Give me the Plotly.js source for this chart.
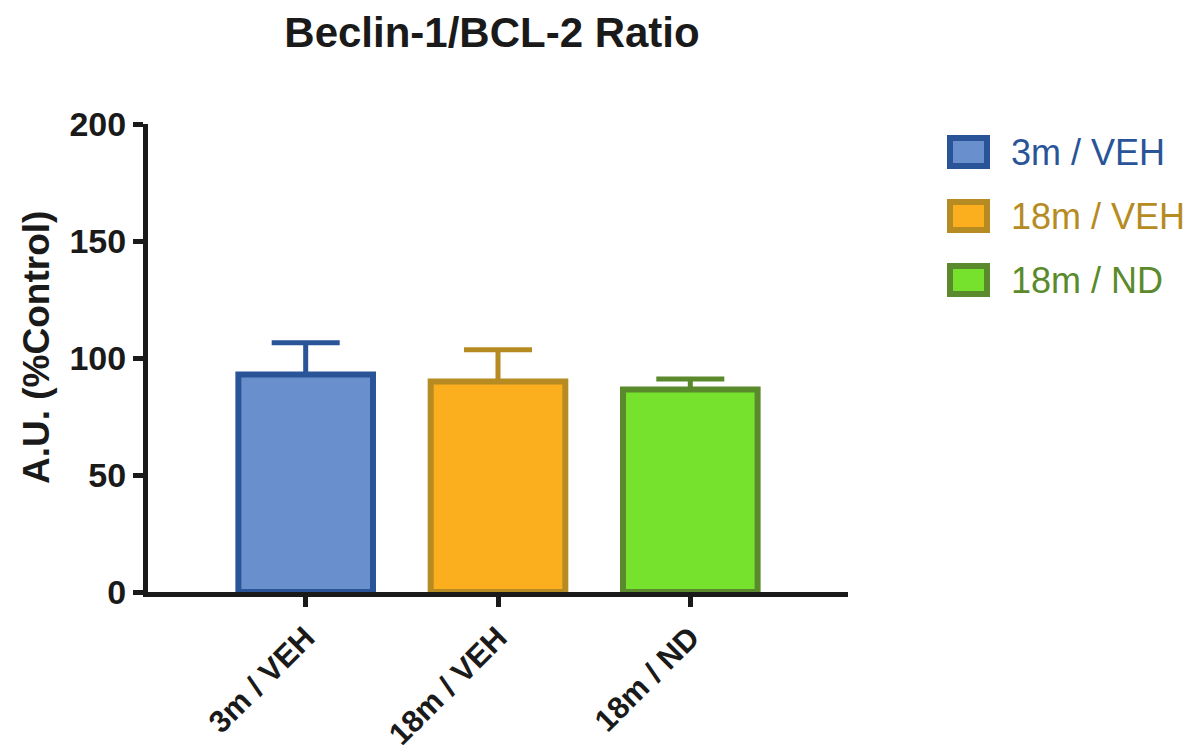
<!DOCTYPE html>
<html>
<head>
<meta charset="utf-8">
<script src="https://cdn.plot.ly/plotly-3.0.1.min.js"></script>
<style>html,body{margin:0;padding:0;background:#fff;}#chart{width:1197px;height:752px;}</style>
</head>
<body>
<div id="chart"></div>
<script>
const categories = ['3m / VEH', '18m / VEH', '18m / ND'];
const means = [93, 90, 86.5];
const errors = [13.5, 13.5, 4.5];
const fillColors = ['#6A8FCD', '#FBAE1E', '#76E22E'];
const lineColors = ['#2A5498', '#B68B22', '#5A8A2B'];
const yTicks = [0, 50, 100, 150, 200];

const FONT = 'Arial, "Liberation Sans", Helvetica, sans-serif';

const traces = categories.map((c, i) => ({
  type: 'bar',
  x: [c],
  y: [means[i]],
  name: c,
  width: 0.7,
  marker: {color: fillColors[i], line: {color: lineColors[i], width: 6}},
  error_y: {type: 'data', array: [errors[i]], arrayminus: [0], symmetric: false,
            color: lineColors[i], thickness: 5, width: 34},
  showlegend: false,
  hoverinfo: 'x+y'
}));

// legend drawn as shapes + annotations (layout only)
const shapes = [];
const annotations = [];
categories.forEach((c, i) => {
  const cy = 152 + i * 64; // px from top
  shapes.push({
    type: 'rect', xref: 'paper', yref: 'paper',
    x0: (950 - 148) / 700, x1: (987 - 148) / 700,
    y0: (592 - (cy + 14)) / 468, y1: (592 - (cy - 14)) / 468,
    fillcolor: fillColors[i], line: {color: lineColors[i], width: 6}
  });
  annotations.push({
    xref: 'paper', yref: 'paper',
    x: (1009 - 148) / 700, y: (592 - cy) / 468,
    xanchor: 'left', yanchor: 'middle', showarrow: false,
    text: c, font: {family: FONT, size: 36, color: lineColors[i]}
  });
});
annotations.push({
  xref: 'paper', yref: 'paper', x: (36 - 148) / 700, y: (592 - 348) / 468,
  xanchor: 'center', yanchor: 'middle', showarrow: false, textangle: -90,
  text: '<b>A.U. (%Control)</b>', font: {family: FONT, size: 37, color: '#1a1a1a'}
});

const layout = {
  width: 1197, height: 752,
  margin: {l: 148, r: 349, t: 124, b: 160},
  paper_bgcolor: '#ffffff', plot_bgcolor: '#ffffff',
  title: {text: '<b>Beclin-1/BCL-2 Ratio</b>', x: 492 / 1197, xanchor: 'center',
          y: 1 - 32 / 752, yanchor: 'middle', yref: 'container',
          font: {family: FONT, size: 42, color: '#1a1a1a'}},
  xaxis: {
    type: 'category', range: [-0.82, 2.82], showgrid: false, zeroline: false,
    showline: true, linecolor: '#1a1a1a', linewidth: 5,
    ticks: 'outside', ticklen: 10, tickwidth: 5, tickcolor: '#1a1a1a',
    tickangle: -45, tickfont: {family: FONT, size: 31, color: '#1a1a1a', weight: 'bold'}
  },
  yaxis: {
    range: [0, 200], tickvals: yTicks, ticktext: yTicks.map(String),
    showgrid: false, zeroline: false,
    showline: true, linecolor: '#1a1a1a', linewidth: 5,
    ticks: 'outside', ticklen: 10, tickwidth: 5, tickcolor: '#1a1a1a',
    tickfont: {family: FONT, size: 34, color: '#1a1a1a', weight: 'bold'}
  },
  shapes: shapes,
  annotations: annotations,
  showlegend: false
};

Plotly.newPlot('chart', traces, layout, {displayModeBar: false, responsive: false});
</script>
</body>
</html>
